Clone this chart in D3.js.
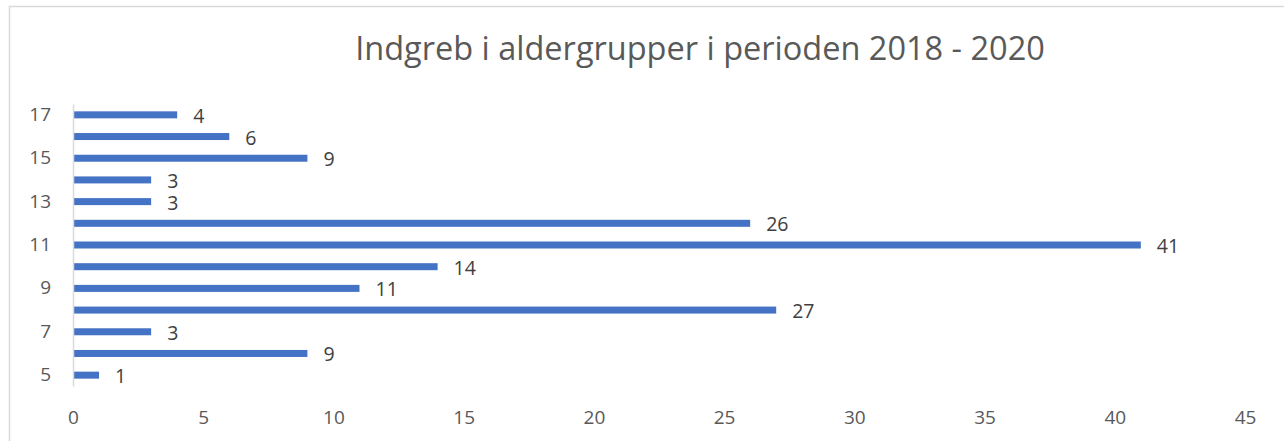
<!DOCTYPE html>
<html lang="da">
<head>
    <meta charset="UTF-8">
    <title>Indgreb i aldergrupper</title>
    <script src="https://d3js.org/d3.v7.min.js"></script>
    <style>
        body { margin: 0; background: #fff; }
        text { font-family: "Open Sans", sans-serif; }
    </style>
</head>
<body>
    <script type="text/javascript">
        var width = 1284, height = 441;

        // alder og antal indgreb
        var ages = [5, 6, 7, 8, 9, 10, 11, 12, 13, 14, 15, 16, 17];
        var counts = [1, 9, 3, 27, 11, 14, 41, 26, 3, 3, 9, 6, 4];
        var xTicks = [0, 5, 10, 15, 20, 25, 30, 35, 40, 45];
        var yTickLabels = [5, 7, 9, 11, 13, 15, 17];
        var title = "Indgreb i aldergrupper i perioden 2018 - 2020";

        var margin = {left: 73, right: 39, top: 104, bottom: 386};

        var svg = d3.select("body").append("svg")
                    .attr("width", width)
                    .attr("height", height);

        // chart frame (only top and left edge are visible)
        svg.append("path")
           .attr("d", "M9.5," + height + " V6.5 H" + width)
           .attr("fill", "none")
           .attr("stroke", "#d9d9d9")
           .attr("stroke-width", 1.5);

        svg.append("text")
           .attr("x", 700)
           .attr("y", 60)
           .attr("text-anchor", "middle")
           .attr("font-size", 32.5)
           .attr("fill", "#595959")
           .text(title);

        var x = d3.scaleLinear().domain([0, 45]).range([margin.left, width - margin.right]);
        var y = d3.scaleBand().domain(ages.slice().reverse()).range([margin.top, margin.bottom]);

        var data = ages.map(function(a, i){ return {age: a, value: counts[i]}; });

        svg.selectAll("rect.bar")
           .data(data)
           .enter()
           .append("rect")
           .attr("class", "bar")
           .attr("x", x(0))
           .attr("y", function(d){ return y(d.age) + y.bandwidth()/2 - 3.5; })
           .attr("width", function(d){ return x(d.value) - x(0); })
           .attr("height", 7)
           .attr("fill", "#4472c4");

        svg.selectAll("text.lbl")
           .data(data)
           .enter()
           .append("text")
           .attr("class", "lbl")
           .attr("x", function(d){ return x(d.value) + 16; })
           .attr("y", function(d){ return y(d.age) + y.bandwidth()/2 + 8; })
           .attr("font-size", 19.5)
           .attr("fill", "#404040")
           .text(function(d){ return d.value; });

        // y axis
        var yAxis = d3.axisLeft(y).tickValues(yTickLabels).tickSize(0).tickPadding(22);
        var gy = svg.append("g").attr("transform", "translate(" + margin.left + ",0)").call(yAxis);
        gy.select(".domain").attr("stroke", "#d9d9d9").attr("stroke-width", 1.5);
        gy.selectAll("text").attr("font-size", 19).attr("fill", "#595959")
          .attr("font-family", "Open Sans, sans-serif");

        // x axis (labels only)
        var xAxis = d3.axisBottom(x).tickValues(xTicks).tickSize(0).tickPadding(25);
        var gx = svg.append("g").attr("transform", "translate(0," + margin.bottom + ")").call(xAxis);
        gx.select(".domain").remove();
        gx.selectAll("text").attr("font-size", 19).attr("fill", "#595959")
          .attr("font-family", "Open Sans, sans-serif");
    </script>
</body>
</html>
